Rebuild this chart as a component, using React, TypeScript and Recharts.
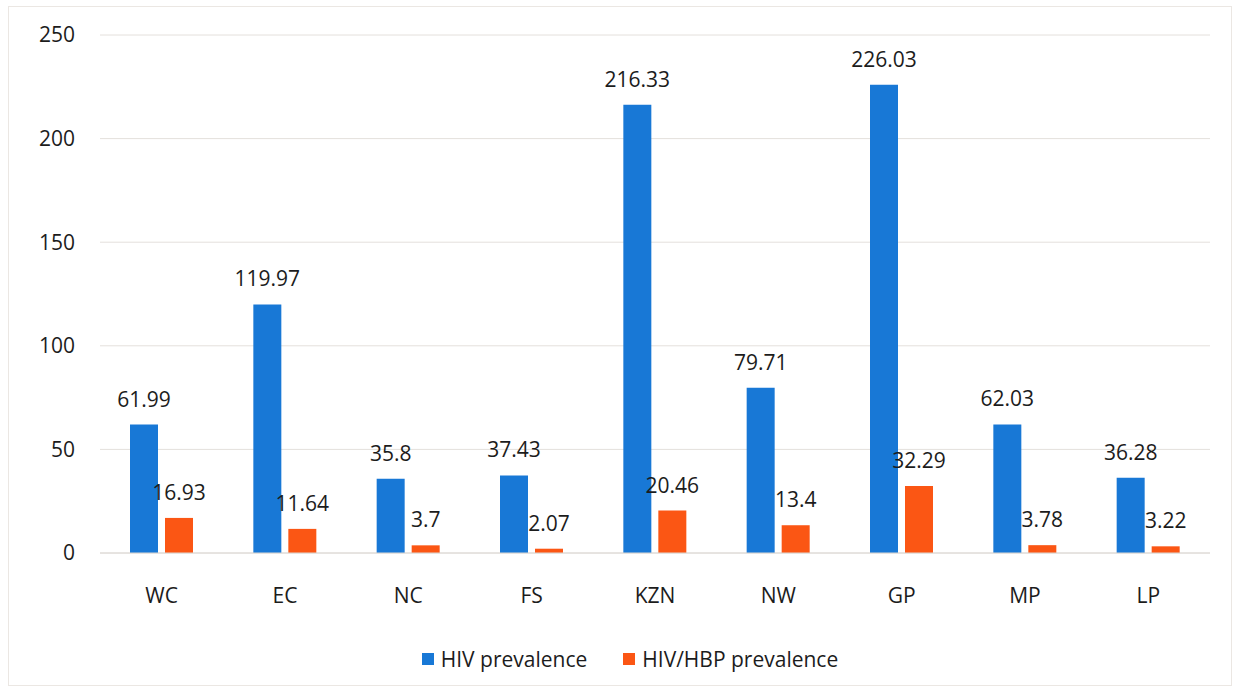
import React from 'react';
import { BarChart, Bar, XAxis, YAxis, CartesianGrid, Legend, LabelList } from 'recharts';

const provinces = ['WC', 'EC', 'NC', 'FS', 'KZN', 'NW', 'GP', 'MP', 'LP'];
const hivPrevalence = [61.99, 119.97, 35.8, 37.43, 216.33, 79.71, 226.03, 62.03, 36.28];
const hivHbpPrevalence = [16.93, 11.64, 3.7, 2.07, 20.46, 13.4, 32.29, 3.78, 3.22];
const yTicks = [0, 50, 100, 150, 200, 250];

const seriesNames = { hiv: 'HIV prevalence', hivHbp: 'HIV/HBP prevalence' };
const BLUE = '#1878d6';
const ORANGE = '#fb5614';
const FONT = '"Open Sans", "Noto Sans", sans-serif';

const data = provinces.map((p, i) => ({
  name: p,
  hiv: hivPrevalence[i],
  hivHbp: hivHbpPrevalence[i],
}));

const LegendContent = () => (
  <div style={{ display: 'flex', justifyContent: 'center', alignItems: 'center', paddingLeft: 22, fontFamily: FONT, fontSize: 21, color: '#1c1c1c' }}>
    {[
      { label: seriesNames.hiv, color: BLUE },
      { label: seriesNames.hivHbp, color: ORANGE },
    ].map((item, i) => (
      <div key={item.label} style={{ display: 'flex', alignItems: 'center', marginLeft: i === 0 ? 0 : 36 }}>
        <span style={{ width: 12, height: 12, background: item.color, display: 'inline-block', marginRight: 7 }} />
        <span>{item.label}</span>
      </div>
    ))}
  </div>
);

export default function App() {
  return (
    <div style={{ position: 'absolute', left: 0, top: 0, width: 1238, height: 693, background: '#fff' }}>
      {/* light frame around the figure */}
      <div style={{ position: 'absolute', left: 8, top: 6, width: 1224, height: 680, border: '1px solid #ebe7e3', boxSizing: 'border-box' }} />
      <BarChart
        width={1238}
        height={693}
        data={data}
        margin={{ top: 35, right: 28, left: 0, bottom: 80 }}
        barGap={7}
        style={{ position: 'absolute', left: 0, top: 0 }}
      >
        <CartesianGrid vertical={false} stroke="#e4e0dc" />
        <XAxis
          dataKey="name"
          height={60}
          tickLine={false}
          axisLine={{ stroke: '#dcd8d4' }}
          tickMargin={29}
          tick={{ fontFamily: FONT, fontSize: 21, fill: '#1c1c1c' }}
        />
        <YAxis
          width={100}
          domain={[0, 250]}
          ticks={yTicks}
          tickLine={false}
          axisLine={false}
          tickMargin={19}
          tick={{ fontFamily: FONT, fontSize: 21, fill: '#1c1c1c' }}
        />
        <Legend verticalAlign="middle" content={<LegendContent />} wrapperStyle={{ top: 645, left: 0, width: 1238 }} />
        <Bar dataKey="hiv" name={seriesNames.hiv} fill={BLUE} barSize={28} isAnimationActive={false}>
          <LabelList dataKey="hiv" position="top" offset={18} style={{ fontFamily: FONT, fontSize: 21, fill: '#1c1c1c' }} />
        </Bar>
        <Bar dataKey="hivHbp" name={seriesNames.hivHbp} fill={ORANGE} barSize={28} isAnimationActive={false}>
          <LabelList dataKey="hivHbp" position="top" offset={18} style={{ fontFamily: FONT, fontSize: 21, fill: '#1c1c1c' }} />
        </Bar>
      </BarChart>
    </div>
  );
}
